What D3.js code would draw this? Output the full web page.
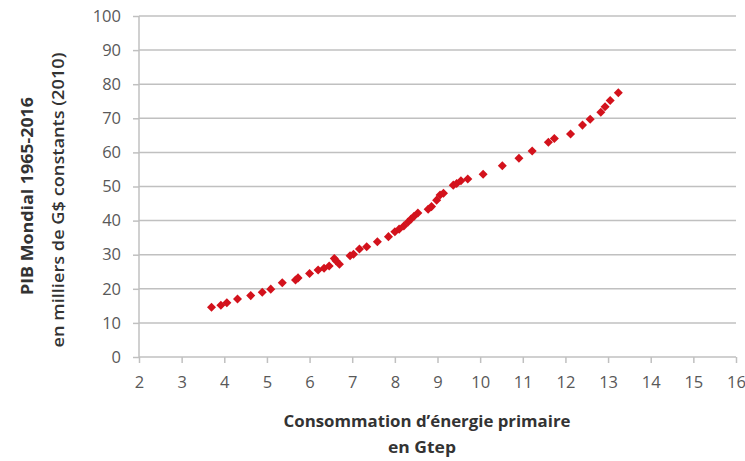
<!DOCTYPE html>
<html><head><meta charset="utf-8">
<script src="https://cdn.jsdelivr.net/npm/d3@7"></script>
<style>body{margin:0;background:#fff}svg{display:block}</style>
</head><body>
<script>
// Consommation d'énergie primaire (Gtep) vs PIB mondial (milliers de G$ 2010), 1965-2016
const energy = [3.70,3.92,4.06,4.31,4.62,4.89,5.09,5.36,5.67,5.73,6.00,6.20,6.34,6.46,6.58,6.62,6.70,6.95,7.03,7.17,7.34,7.59,7.85,8.00,8.10,8.21,8.31,8.38,8.45,8.54,8.78,8.86,8.98,9.06,9.14,9.37,9.45,9.55,9.71,10.07,10.52,10.91,11.22,11.60,11.74,12.12,12.40,12.58,12.83,12.93,13.05,13.24];
const gdp    = [14.6,15.2,15.9,17.0,18.0,19.0,19.9,21.8,22.6,23.2,24.5,25.5,26.0,26.7,28.9,28.2,27.2,29.7,30.1,31.7,32.3,33.8,35.3,36.7,37.5,38.4,39.6,40.5,41.3,42.2,43.3,44.1,46.0,47.5,48.0,50.4,50.9,51.7,52.2,53.6,56.1,58.3,60.4,63.0,64.1,65.4,68.0,69.7,71.8,73.4,75.2,77.5];
const xTicks = [2,3,4,5,6,7,8,9,10,11,12,13,14,15,16];
const yTicks = [0,10,20,30,40,50,60,70,80,90,100];
const xTitle = ["Consommation d\u2019énergie primaire", "en Gtep"];
const yTitle = ["PIB Mondial 1965-2016", "en milliers de G$ constants (2010)"];

const W = 745, H = 461;
const L = 139, R = 736, T = 16, B = 357;
const svg = d3.select("body").append("svg").attr("width", W).attr("height", H);
const x = d3.scaleLinear().domain([2,16]).range([L,R]);
const y = d3.scaleLinear().domain([0,100]).range([B,T]);
const font = "Open Sans, Lato, sans-serif";
const grey = "#c0c0c0";

// gridlines
svg.append("g").selectAll("line").data(yTicks.filter(d=>d>0)).join("line")
  .attr("x1", L).attr("x2", R).attr("y1", d=>y(d)).attr("y2", d=>y(d))
  .attr("stroke", grey).attr("stroke-width", 1.5);

// y axis
const ya = svg.append("g").attr("transform", `translate(${L},0)`)
  .call(d3.axisLeft(y).tickValues(yTicks).tickSize(6).tickPadding(12));
// x axis
const xa = svg.append("g").attr("transform", `translate(0,${B})`)
  .call(d3.axisBottom(x).tickValues(xTicks).tickSize(6).tickPadding(13));
[ya, xa].forEach(a => {
  a.select(".domain").attr("stroke", grey).attr("stroke-width", 1.5);
  a.selectAll(".tick line").attr("stroke", grey).attr("stroke-width", 1.5);
  a.selectAll(".tick text").attr("fill", "#595959").attr("font-family", font).attr("font-size", 16.5);
});
xa.select(".domain").attr("d", `M${L},0H${R}`);
ya.select(".domain").attr("d", `M0,${B}V${T}`);

// points (diamonds)
const sym = d3.symbol().type(d3.symbolDiamond2).size(52);
svg.append("g").selectAll("path").data(energy.map((e,i)=>[e, gdp[i]])).join("path")
  .attr("d", sym).attr("transform", d=>`translate(${x(d[0])},${y(d[1])})`)
  .attr("fill", "#d3121c");

// titles
const cx = 427;
svg.append("text").attr("x", cx).attr("y", 427).attr("text-anchor","middle")
  .attr("font-family", font).attr("font-weight","bold").attr("font-size", 16.5).attr("fill","#333")
  .attr("textLength", 287).attr("lengthAdjust","spacingAndGlyphs").text(xTitle[0]);
svg.append("text").attr("x", cx - 5).attr("y", 453).attr("text-anchor","middle")
  .attr("font-family", font).attr("font-weight","bold").attr("font-size", 16.5).attr("fill","#333")
  .attr("textLength", 68).attr("lengthAdjust","spacingAndGlyphs").text(xTitle[1]);

svg.append("text").attr("transform", "translate(33,196) rotate(-90)").attr("text-anchor","middle")
  .attr("font-family", font).attr("font-weight","bold").attr("font-size", 16.5).attr("fill","#333")
  .attr("textLength", 198).attr("lengthAdjust","spacingAndGlyphs").text(yTitle[0]);
svg.append("text").attr("transform", "translate(64,200) rotate(-90)").attr("text-anchor","middle")
  .attr("font-family", font).attr("font-weight","600").attr("font-size", 16.5).attr("fill","#333")
  .attr("textLength", 295).attr("lengthAdjust","spacingAndGlyphs").text(yTitle[1]);
</script>
</body></html>
